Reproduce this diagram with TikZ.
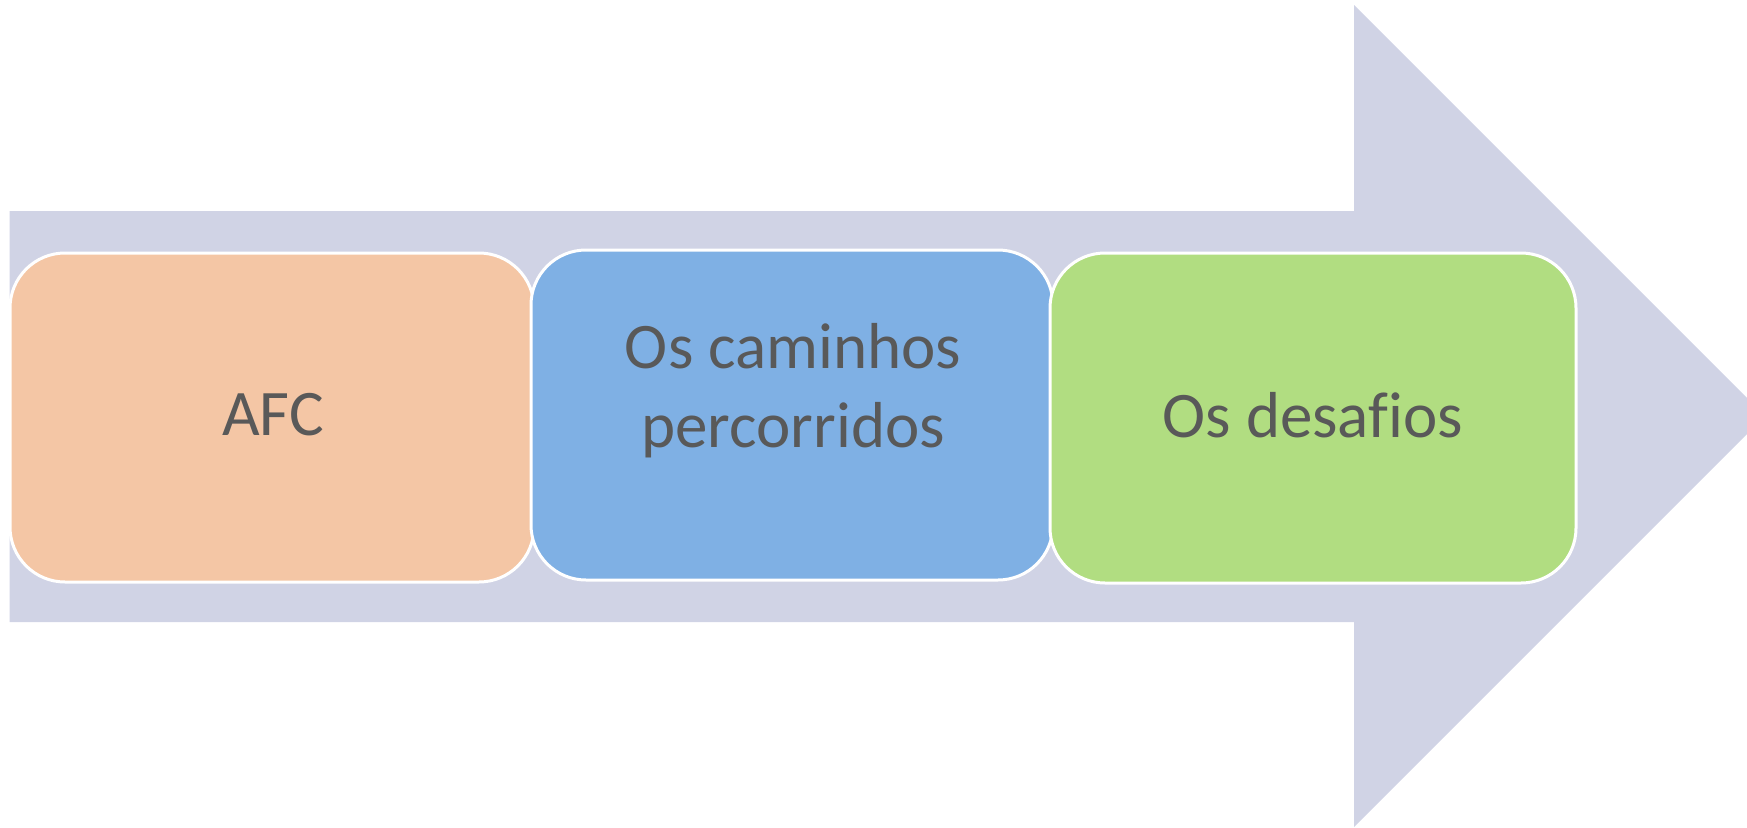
\documentclass[tikz,border=0pt]{standalone}
\usepackage{fontspec}
\setmainfont{Carlito}[Ligatures=CommonOff]
\definecolor{arrowcol}{HTML}{D0D3E5}
\definecolor{afccol}{HTML}{F4C6A5}
\definecolor{bluecol}{HTML}{7FB0E4}
\definecolor{greencol}{HTML}{B1DD81}
\definecolor{txtcol}{HTML}{595959}
\tikzset{
  stagebox/.style={draw=white, line width=3pt, rounded corners=55pt, inner sep=0pt},
  stagetext/.style={anchor=base, inner sep=0pt, text=txtcol, font=\fontsize{65}{79}\selectfont}
}
\begin{document}
\begin{tikzpicture}[x=1pt, y=-1pt]
\useasboundingbox (0,0) rectangle (1747,827);
\clip (0,0) rectangle (1747,827);
% big arrow
\fill[arrowcol] (9.5,211) -- (1354,211) -- (1354,5) -- (1765,416) -- (1354,827) -- (1354,622) -- (9.5,622) -- cycle;
% stage boxes
\node[stagebox, fill=afccol, minimum width=524pt, minimum height=329pt] (afc) at (272,417.5) {};
\node[stagebox, fill=bluecol, minimum width=522pt, minimum height=330pt] (caminhos) at (792,415) {};
\node[stagebox, fill=greencol, minimum width=526pt, minimum height=330pt] (desafios) at (1313,418) {};
% texts
\node[stagetext] (tafc) at (273,435) {AFC};
\node[stagetext] (tcam1) at (793,368) {Os caminhos};
\node[stagetext] (tcam2) at (793,447) {percorridos};
\node[stagetext] (tdes) at (1313,437) {Os desafios};
\end{tikzpicture}
\end{document}
